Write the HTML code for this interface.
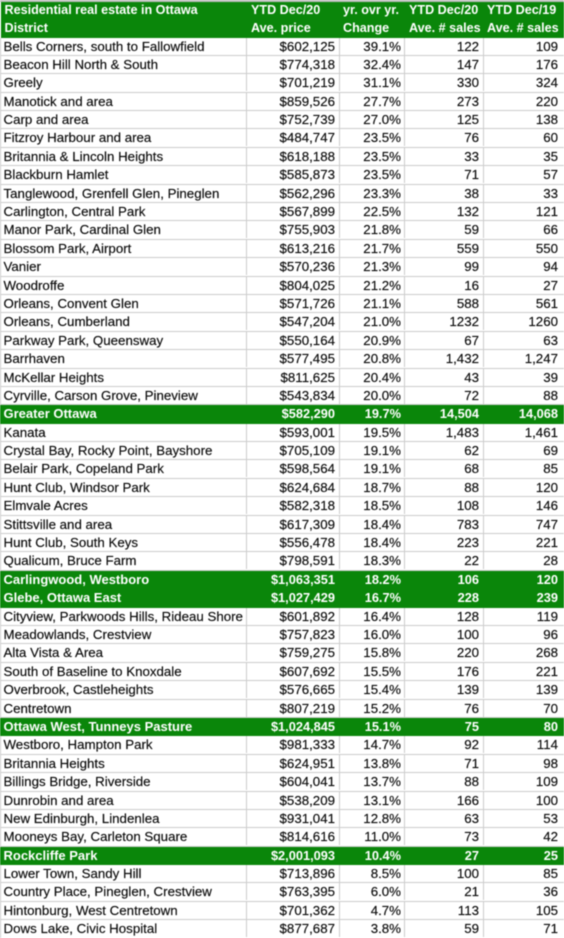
<!DOCTYPE html>
<html lang="en">
<head>
<meta charset="utf-8">
<title>Residential real estate in Ottawa</title>
<style>
html,body{margin:0;padding:0;background:#fff}
#t{position:relative;width:564px;height:938px;overflow:hidden;background:#fff;font-family:"Liberation Sans",Arial,sans-serif;font-size:13.3px;color:#0a0a0a;filter:blur(.4px)}
.h{position:absolute;left:1px;top:2px;width:563px;height:35.5px;background:#0a860a;color:#fff;font-weight:bold;font-size:12.6px}
.h span{position:absolute;line-height:17px;white-space:nowrap}
#b{position:absolute;left:0;top:37.5px;width:564px}
.r{display:flex;height:18.4px;box-sizing:border-box;line-height:18px;white-space:nowrap;border-bottom:1.6px solid #cccccc;border-left:1.5px solid #cccccc;-webkit-text-stroke:.15px #0a0a0a}
.r span{display:block;box-sizing:border-box;height:17px;text-align:right;border-right:1.6px solid #cccccc}
.r span:nth-child(1){width:245.5px;text-align:left;padding-left:2.5px}
.r span:nth-child(2){width:93px;padding-right:3.5px}
.r span:nth-child(3){width:65.5px;padding-right:3px}
.r span:nth-child(4){width:78.5px;padding-right:3.5px}
.r span:nth-child(5){width:80px;padding-right:5.5px;border-right:0}
.g{background:#0a860a;color:#fff;font-weight:bold;border-color:#0a860a;font-size:12.8px;-webkit-text-stroke:0}
.g span{border-color:#0a860a}
.g span:nth-child(1){font-size:13px}
</style>
</head>
<body>
<div id="t">
<div class="h">
<span style="left:3.5px;top:0">Residential real estate in Ottawa</span>
<span style="left:3.5px;top:18px">District</span>
<span style="left:250px;top:0">YTD Dec/20</span>
<span style="left:250px;top:18px">Ave. price</span>
<span style="left:342px;top:0">yr. ovr yr.</span>
<span style="left:342px;top:18px">Change</span>
<span style="left:408px;top:0">YTD Dec/20</span>
<span style="left:408px;top:18px">Ave. # sales</span>
<span style="left:486px;top:0">YTD Dec/19</span>
<span style="left:486px;top:18px">Ave. # sales</span>
</div>
<div id="b">
<div class="r"><span>Bells Corners, south to Fallowfield</span><span>$602,125</span><span>39.1%</span><span>122</span><span>109</span></div>
<div class="r"><span>Beacon Hill North &amp; South</span><span>$774,318</span><span>32.4%</span><span>147</span><span>176</span></div>
<div class="r"><span>Greely</span><span>$701,219</span><span>31.1%</span><span>330</span><span>324</span></div>
<div class="r"><span>Manotick and area</span><span>$859,526</span><span>27.7%</span><span>273</span><span>220</span></div>
<div class="r"><span>Carp and area</span><span>$752,739</span><span>27.0%</span><span>125</span><span>138</span></div>
<div class="r"><span>Fitzroy Harbour and area</span><span>$484,747</span><span>23.5%</span><span>76</span><span>60</span></div>
<div class="r"><span>Britannia &amp; Lincoln Heights</span><span>$618,188</span><span>23.5%</span><span>33</span><span>35</span></div>
<div class="r"><span>Blackburn Hamlet</span><span>$585,873</span><span>23.5%</span><span>71</span><span>57</span></div>
<div class="r"><span>Tanglewood, Grenfell Glen, Pineglen</span><span>$562,296</span><span>23.3%</span><span>38</span><span>33</span></div>
<div class="r"><span>Carlington, Central Park</span><span>$567,899</span><span>22.5%</span><span>132</span><span>121</span></div>
<div class="r"><span>Manor Park, Cardinal Glen</span><span>$755,903</span><span>21.8%</span><span>59</span><span>66</span></div>
<div class="r"><span>Blossom Park, Airport</span><span>$613,216</span><span>21.7%</span><span>559</span><span>550</span></div>
<div class="r"><span>Vanier</span><span>$570,236</span><span>21.3%</span><span>99</span><span>94</span></div>
<div class="r"><span>Woodroffe</span><span>$804,025</span><span>21.2%</span><span>16</span><span>27</span></div>
<div class="r"><span>Orleans, Convent Glen</span><span>$571,726</span><span>21.1%</span><span>588</span><span>561</span></div>
<div class="r"><span>Orleans, Cumberland</span><span>$547,204</span><span>21.0%</span><span>1232</span><span>1260</span></div>
<div class="r"><span>Parkway Park, Queensway</span><span>$550,164</span><span>20.9%</span><span>67</span><span>63</span></div>
<div class="r"><span>Barrhaven</span><span>$577,495</span><span>20.8%</span><span>1,432</span><span>1,247</span></div>
<div class="r"><span>McKellar Heights</span><span>$811,625</span><span>20.4%</span><span>43</span><span>39</span></div>
<div class="r"><span>Cyrville, Carson Grove, Pineview</span><span>$543,834</span><span>20.0%</span><span>72</span><span>88</span></div>
<div class="r g"><span>Greater Ottawa</span><span>$582,290</span><span>19.7%</span><span>14,504</span><span>14,068</span></div>
<div class="r"><span>Kanata</span><span>$593,001</span><span>19.5%</span><span>1,483</span><span>1,461</span></div>
<div class="r"><span>Crystal Bay, Rocky Point, Bayshore</span><span>$705,109</span><span>19.1%</span><span>62</span><span>69</span></div>
<div class="r"><span>Belair Park, Copeland Park</span><span>$598,564</span><span>19.1%</span><span>68</span><span>85</span></div>
<div class="r"><span>Hunt Club, Windsor Park</span><span>$624,684</span><span>18.7%</span><span>88</span><span>120</span></div>
<div class="r"><span>Elmvale Acres</span><span>$582,318</span><span>18.5%</span><span>108</span><span>146</span></div>
<div class="r"><span>Stittsville and area</span><span>$617,309</span><span>18.4%</span><span>783</span><span>747</span></div>
<div class="r"><span>Hunt Club, South Keys</span><span>$556,478</span><span>18.4%</span><span>223</span><span>221</span></div>
<div class="r"><span>Qualicum, Bruce Farm</span><span>$798,591</span><span>18.3%</span><span>22</span><span>28</span></div>
<div class="r g"><span>Carlingwood, Westboro</span><span>$1,063,351</span><span>18.2%</span><span>106</span><span>120</span></div>
<div class="r g"><span>Glebe, Ottawa East</span><span>$1,027,429</span><span>16.7%</span><span>228</span><span>239</span></div>
<div class="r"><span>Cityview, Parkwoods Hills, Rideau Shore</span><span>$601,892</span><span>16.4%</span><span>128</span><span>119</span></div>
<div class="r"><span>Meadowlands, Crestview</span><span>$757,823</span><span>16.0%</span><span>100</span><span>96</span></div>
<div class="r"><span>Alta Vista &amp; Area</span><span>$759,275</span><span>15.8%</span><span>220</span><span>268</span></div>
<div class="r"><span>South of Baseline to Knoxdale</span><span>$607,692</span><span>15.5%</span><span>176</span><span>221</span></div>
<div class="r"><span>Overbrook, Castleheights</span><span>$576,665</span><span>15.4%</span><span>139</span><span>139</span></div>
<div class="r"><span>Centretown</span><span>$807,219</span><span>15.2%</span><span>76</span><span>70</span></div>
<div class="r g"><span>Ottawa West, Tunneys Pasture</span><span>$1,024,845</span><span>15.1%</span><span>75</span><span>80</span></div>
<div class="r"><span>Westboro, Hampton Park</span><span>$981,333</span><span>14.7%</span><span>92</span><span>114</span></div>
<div class="r"><span>Britannia Heights</span><span>$624,951</span><span>13.8%</span><span>71</span><span>98</span></div>
<div class="r"><span>Billings Bridge, Riverside</span><span>$604,041</span><span>13.7%</span><span>88</span><span>109</span></div>
<div class="r"><span>Dunrobin and area</span><span>$538,209</span><span>13.1%</span><span>166</span><span>100</span></div>
<div class="r"><span>New Edinburgh, Lindenlea</span><span>$931,041</span><span>12.8%</span><span>63</span><span>53</span></div>
<div class="r"><span>Mooneys Bay, Carleton Square</span><span>$814,616</span><span>11.0%</span><span>73</span><span>42</span></div>
<div class="r g"><span>Rockcliffe Park</span><span>$2,001,093</span><span>10.4%</span><span>27</span><span>25</span></div>
<div class="r"><span>Lower Town, Sandy Hill</span><span>$713,896</span><span>8.5%</span><span>100</span><span>85</span></div>
<div class="r"><span>Country Place, Pineglen, Crestview</span><span>$763,395</span><span>6.0%</span><span>21</span><span>36</span></div>
<div class="r"><span>Hintonburg, West Centretown</span><span>$701,362</span><span>4.7%</span><span>113</span><span>105</span></div>
<div class="r"><span>Dows Lake, Civic Hospital</span><span>$877,687</span><span>3.8%</span><span>59</span><span>71</span></div>
</div>
<div style="position:absolute;left:0;top:0;width:564px;height:2px;background:#bdbdbd"></div>
</div>
</body>
</html>
